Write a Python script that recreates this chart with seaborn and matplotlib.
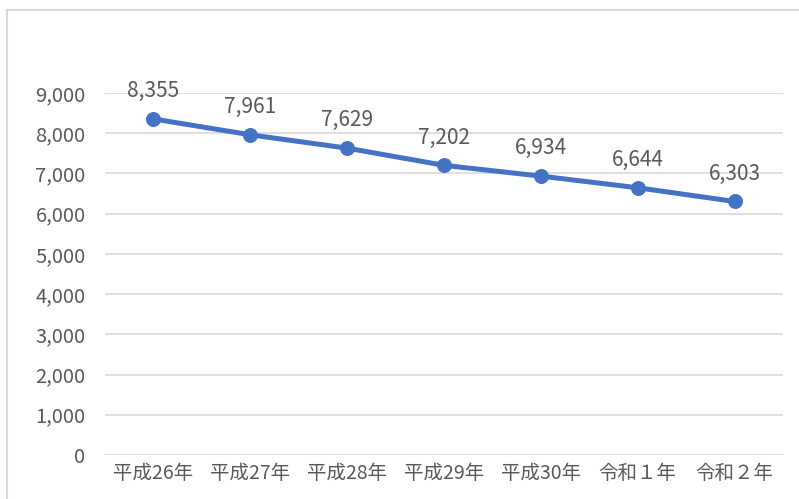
import matplotlib
matplotlib.use("Agg")
import pandas as pd
import seaborn as sns
from matplotlib import pyplot as plt
from matplotlib.patches import Rectangle
from matplotlib.ticker import FuncFormatter

years = ["平成26年", "平成27年", "平成28年", "平成29年", "平成30年", "令和１年", "令和２年"]
counts = [8355, 7961, 7629, 7202, 6934, 6644, 6303]
y_ticks = [0, 1000, 2000, 3000, 4000, 5000, 6000, 7000, 8000, 9000]

LINE_COLOR = "#4472C4"
TEXT_COLOR = "#595959"

sns.set_style("white")
plt.rcParams["font.family"] = ["Noto Sans CJK JP", "DejaVu Sans"]

df = pd.DataFrame({"year": years, "count": counts})

fig = plt.figure(figsize=(7.99, 4.99), dpi=100)
ax = fig.add_axes([105 / 799, 1 - 455 / 499, 678 / 799, 362 / 499])

# outer chart border
fig.patches.append(Rectangle((7 / 799, -0.1), 1.2, 1 - 10 / 499 + 0.1,
                             transform=fig.transFigure, fill=False,
                             edgecolor="#d9d9d9", linewidth=1.5))

sns.lineplot(data=df, x="year", y="count", sort=False, color=LINE_COLOR,
             linewidth=3.6, marker="o", markersize=10,
             markeredgecolor=LINE_COLOR, ax=ax)

for i, v in enumerate(counts):
    ax.annotate(f"{v:,}", (i, v), xytext=(0, 20), textcoords="offset points",
                ha="center", va="center", fontsize=15, color=TEXT_COLOR)

ax.set_xlim(-0.5, len(years) - 0.5)
ax.set_ylim(0, 9000)
ax.set_yticks(y_ticks)
ax.yaxis.set_major_formatter(FuncFormatter(lambda v, _: f"{int(v):,}"))
ax.grid(axis="y", color="#d9d9d9", linewidth=1.2)
ax.grid(axis="x", visible=False)
ax.set_axisbelow(True)
for spine in ax.spines.values():
    spine.set_visible(False)
ax.tick_params(axis="y", length=0, pad=14, labelsize=14.5, labelcolor=TEXT_COLOR)
ax.tick_params(axis="x", length=0, pad=6, labelsize=14, labelcolor=TEXT_COLOR)
ax.set_xlabel("")
ax.set_ylabel("")

fig.savefig("out.png", dpi=100)
